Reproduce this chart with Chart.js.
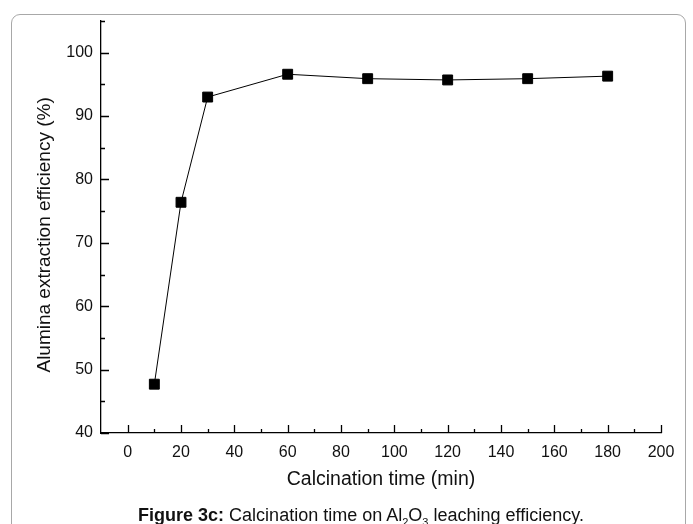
<!DOCTYPE html>
<html>
<head>
<meta charset="utf-8">
<script src="https://cdn.jsdelivr.net/npm/chart.js@4.4.0/dist/chart.umd.min.js"></script>
<style>
  html, body { margin: 0; padding: 0; background: #fff; }
  #wrap { position: relative; width: 693px; height: 524px; overflow: hidden; }
  #frame {
    position: absolute; left: 11px; top: 14px; width: 675px; height: 540px;
    border: 1px solid #a8a8a8; border-radius: 9px; box-sizing: border-box;
  }
  #grafico { position: absolute; left: 0; top: 0; }
  #legenda {
    position: absolute; left: 0; width: 722px; top: 505px; text-align: center;
    font-family: "Liberation Sans", Arial, sans-serif; font-size: 18px; color: #111;
    white-space: nowrap;
  }
  #legenda sub { font-size: 11px; }
</style>
</head>
<body>
<div id="wrap">
  <div id="frame"></div>
  <canvas id="grafico" width="693" height="524"></canvas>
  <div id="legenda"><b>Figure 3c:</b> Calcination time on Al<sub>2</sub>O<sub>3</sub> leaching efficiency.</div>
</div>
<script>
// Dados
const tempos = [10, 20, 30, 60, 90, 120, 150, 180];
const eficiencia = [47.7, 76.4, 93.0, 96.6, 95.9, 95.7, 95.9, 96.3];

// Marcas dos eixos
const xMaiores = [0, 20, 40, 60, 80, 100, 120, 140, 160, 180, 200];
const xMenores = [10, 30, 50, 70, 90, 110, 130, 150, 170, 190];
const yMaiores = [40, 50, 60, 70, 80, 90, 100];
const yMenores = [45, 55, 65, 75, 85, 95, 105];

const fonte = "'Liberation Sans', Arial, sans-serif";

// Plugin para desenhar os traços das marcas para dentro do gráfico
const marcasInternas = {
    id: 'marcasInternas',
    afterDraw(chart) {
        const ctx = chart.ctx;
        const x = chart.scales.x;
        const y = chart.scales.y;
        const area = chart.chartArea;
        ctx.save();
        ctx.strokeStyle = '#000';
        ctx.lineWidth = 1.3;
        ctx.beginPath();
        xMaiores.concat(xMenores).forEach(v => {
            const px = Math.round(x.getPixelForValue(v)) + 0.5;
            const len = xMaiores.includes(v) ? 8 : 4;
            ctx.moveTo(px, area.bottom);
            ctx.lineTo(px, area.bottom - len);
        });
        yMaiores.concat(yMenores).forEach(v => {
            const py = Math.round(y.getPixelForValue(v)) + 0.5;
            const len = yMaiores.includes(v) ? 8 : 4;
            ctx.moveTo(area.left, py);
            ctx.lineTo(area.left + len, py);
        });
        ctx.stroke();
        ctx.restore();
    }
};

const ctx = document.getElementById('grafico').getContext('2d');
const grafico = new Chart(ctx, {
    type: 'line',
    data: {
        datasets: [{
            data: tempos.map((t, i) => ({ x: t, y: eficiencia[i] })),
            borderColor: '#000',
            borderWidth: 1,
            backgroundColor: '#000',
            pointStyle: 'rect',
            pointRadius: 7,
            pointHoverRadius: 7,
            tension: 0,
            clip: false
        }]
    },
    options: {
        responsive: false,
        animation: false,
        events: [],
        layout: { padding: { left: 0, top: 21, right: 32, bottom: 33 } },
        plugins: { legend: { display: false }, tooltip: { enabled: false } },
        scales: {
            x: {
                type: 'linear',
                min: -10,
                max: 200,
                afterBuildTicks: s => { s.ticks = xMaiores.map(v => ({ value: v })); },
                afterFit: s => { s.height = 58; },
                grid: { display: false, drawTicks: false },
                border: { display: true, color: '#000', width: 1.3 },
                ticks: {
                    padding: 10,
                    color: '#111',
                    font: { family: fonte, size: 16 },
                    maxRotation: 0,
                    autoSkip: false
                },
                title: {
                    display: true,
                    text: 'Calcination time (min)',
                    color: '#111',
                    font: { family: fonte, size: 19.5 },
                    padding: { top: 0, bottom: 0 }
                }
            },
            y: {
                min: 40,
                max: 105,
                afterBuildTicks: s => { s.ticks = yMaiores.map(v => ({ value: v })); },
                afterFit: s => { s.width = 101; },
                grid: { display: false, drawTicks: false },
                border: { display: true, color: '#000', width: 1.3 },
                ticks: {
                    padding: 8,
                    color: '#111',
                    font: { family: fonte, size: 16 },
                    autoSkip: false
                },
                title: {
                    display: true,
                    text: 'Alumina extraction efficiency (%)   ',
                    color: '#111',
                    font: { family: fonte, size: 19 },
                    padding: { top: 33.6, bottom: 0 }
                }
            }
        }
    },
    plugins: [marcasInternas]
});
</script>
</body>
</html>
